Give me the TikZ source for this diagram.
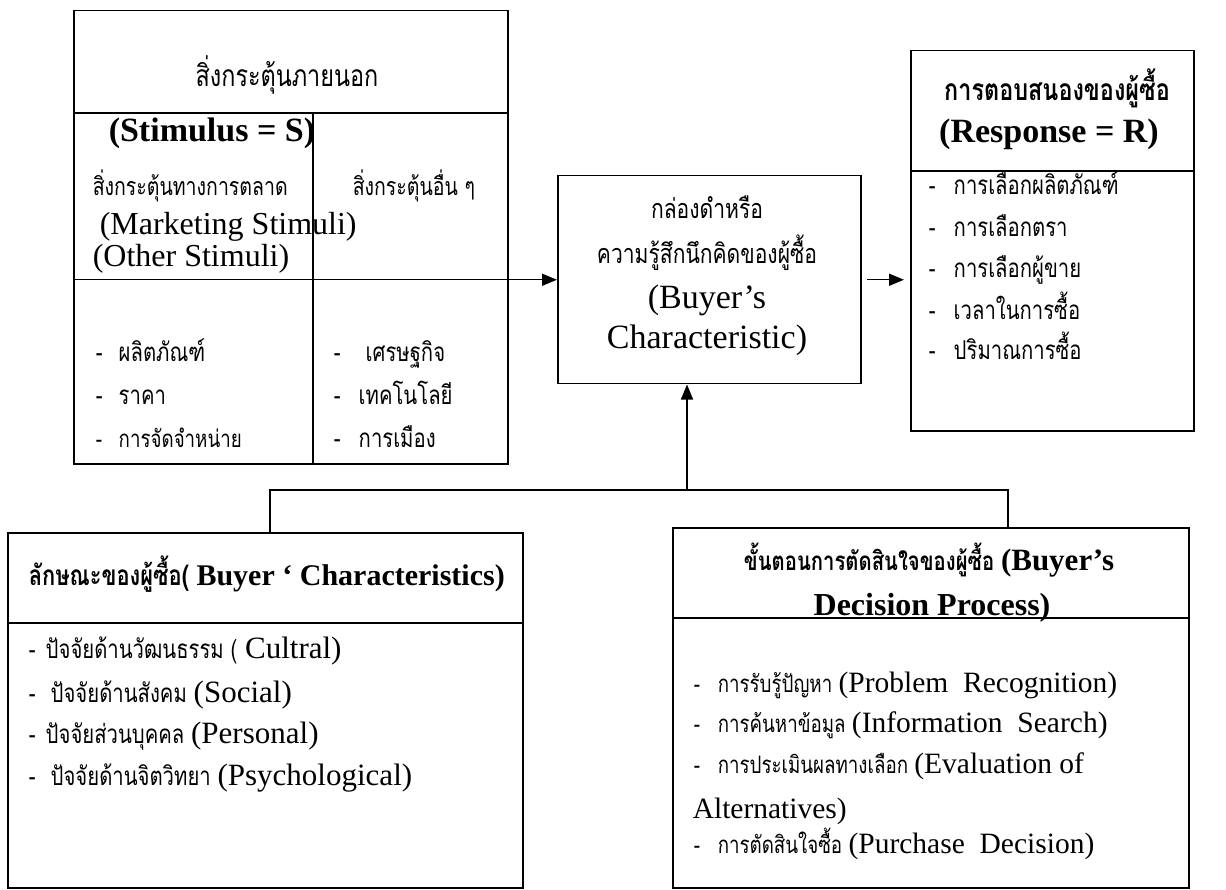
\documentclass[tikz,border=0pt]{standalone}
\usepackage{fontspec}
\setmainfont{Liberation Serif}
\newfontfamily\thaifont[Script=Thai,FakeStretch=0.78]{Loma}
\usetikzlibrary{arrows.meta}
\newcommand\enz[1]{\rmfamily\fontsize{#1}{#1}\selectfont}
\newcommand\thz[1]{\thaifont\fontsize{#1}{#1}\selectfont}
\begin{document}
\begin{tikzpicture}[x=1pt,y=-1pt,line width=1.5pt,
  box/.style={draw, inner sep=0pt, anchor=north west},
  tl/.style={inner sep=0pt, anchor=base west},
  tc/.style={inner sep=0pt, anchor=base},
  arr/.style={-{Triangle[length=15pt,width=12pt]}}]
\useasboundingbox (0,0) rectangle (1226,890);
\fill[white] (0,0) rectangle (1226,890);

% boxes
\node[box, minimum width=434pt, minimum height=453pt] (S) at (73,10) {};
\node[box, minimum width=303pt, minimum height=208pt] (B) at (557,175) {};
\node[box, minimum width=283pt, minimum height=380pt] (R) at (910,50) {};
\node[box, minimum width=515pt, minimum height=355pt] (C) at (7,532) {};
\node[box, minimum width=516pt, minimum height=360pt] (D) at (672,527) {};

% dividers
\coordinate (h1) at (0,113);
\coordinate (v1) at (313,0);
\coordinate (h3) at (0,171);
\coordinate (h4) at (0,623);
\coordinate (h5) at (0,618);
\draw (S.west |- h1) -- (S.east |- h1);
\draw (v1 |- h1) -- (v1 |- S.south);
\draw (R.west |- h3) -- (R.east |- h3);
\draw (C.west |- h4) -- (C.east |- h4);
\draw (D.west |- h5) -- (D.east |- h5);

% connectors
\draw[arr] (S.west |- B.west) -- (B.west);
\draw[arr, shorten <=5pt, shorten >=6pt] (B.east) -- (R.west |- B.east);
\coordinate (cl) at (270,490);
\coordinate (cr) at (1008,490);
\coordinate (J) at (687,490);
\draw (C.north -| cl) -- (cl) -- (cr) -- (D.north -| cr);
\draw[arr] (J) -- (J |- B.south);

% stimulus box text
\node[tc] (s1) at (287,87) {\thz{30}สิ่งกระตุ้นภายนอก};
\node[tl] (s2) at (108,142) {\enz{34}\bfseries (Stimulus = S)};
\node[tl] (s3) at (92,196) {\thz{25}สิ่งกระตุ้นทางการตลาด};
\node[tl] (s4) at (352,196) {\thz{25}สิ่งกระตุ้นอื่น ๆ};
\node[tl] (s5) at (99,235) {\enz{32}(Marketing Stimuli)};
\node[tl] (s6) at (92,267) {\enz{32}(Other Stimuli)};
\node[tl] (s7) at (95,362) {\thz{26}\makebox[23pt][l]{-}ผลิตภัณฑ์};
\node[tl] (s8) at (95,405) {\thz{26}\makebox[23pt][l]{-}ราคา};
\node[tl] (s9) at (95,447) {\thz{24}\makebox[23pt][l]{-}การจัดจำหน่าย};
\node[tl] (s10) at (333,362) {\thz{26}\makebox[32pt][l]{-}เศรษฐกิจ};
\node[tl] (s11) at (333,405) {\thz{26}\makebox[25pt][l]{-}เทคโนโลยี};
\node[tl] (s12) at (333,447) {\thz{26}\makebox[25pt][l]{-}การเมือง};

% black box text
\node[tc] (b1) at (707,219) {\thz{27}กล่องดำหรือ};
\node[tc] (b2) at (707,264) {\thz{27}ความรู้สึกนึกคิดของผู้ซื้อ};
\node[tc] (b3) at (707,309) {\enz{34}(Buyer’s};
\node[tc] (b4) at (707,349) {\enz{34}Characteristic)};

% response box text
\node[tc] (r1) at (1057,101) {\thz{30}\bfseries การตอบสนองของผู้ซื้อ};
\node[tc] (r2) at (1049,143) {\enz{34}\bfseries (Response = R)};
\node[tl] (r3) at (928,195) {\thz{26}\makebox[25pt][l]{-}การเลือกผลิตภัณฑ์};
\node[tl] (r4) at (928,237) {\thz{26}\makebox[25pt][l]{-}การเลือกตรา};
\node[tl] (r5) at (928,278) {\thz{26}\makebox[25pt][l]{-}การเลือกผู้ขาย};
\node[tl] (r6) at (928,320) {\thz{26}\makebox[25pt][l]{-}เวลาในการซื้อ};
\node[tl] (r7) at (928,360) {\thz{26}\makebox[25pt][l]{-}ปริมาณการซื้อ};

% buyer characteristics box text
\node[tl] (c1) at (28,585) {\thz{28}\bfseries ลักษณะของผู้ซื้อ(\enz{30}\bfseries\ Buyer ‘ Characteristics)};
\node[tl] (c2) at (28,658) {\thz{26}\makebox[17pt][l]{-}ปัจจัยด้านวัฒนธรรม (\enz{31}\ Cultral)};
\node[tl] (c3) at (28,702) {\thz{26}\makebox[22pt][l]{-}ปัจจัยด้านสังคม \enz{31}(Social)};
\node[tl] (c4) at (28,743) {\thz{26}\makebox[17pt][l]{-}ปัจจัยส่วนบุคคล \enz{31}(Personal)};
\node[tl] (c5) at (28,785) {\thz{26}\makebox[22pt][l]{-}ปัจจัยด้านจิตวิทยา \enz{31}(Psychological)};

% decision process box text
\node[tc] (d1) at (929,570) {\thz{26}\bfseries ขั้นตอนการตัดสินใจของผู้ซื้อ \enz{31}\bfseries (Buyer’s};
\node[tc] (d2) at (932,615) {\enz{32}\bfseries Decision Process)};
\node[tl] (d3) at (693,692) {\thz{24}\makebox[24pt][l]{-}การรับรู้ปัญหา \enz{29.5}(Problem~ Recognition)};
\node[tl] (d4) at (693,732) {\thz{24}\makebox[24pt][l]{-}การค้นหาข้อมูล \enz{29.5}(Information~ Search)};
\node[tl] (d5) at (693,773) {\thz{24}\makebox[24pt][l]{-}การประเมินผลทางเลือก \enz{29.5}(Evaluation of};
\node[tl] (d6) at (692,818) {\enz{29.5}Alternatives)};
\node[tl] (d7) at (693,853) {\thz{24}\makebox[24pt][l]{-}การตัดสินใจซื้อ \enz{29.5}(Purchase~ Decision)};
\end{tikzpicture}
\end{document}
